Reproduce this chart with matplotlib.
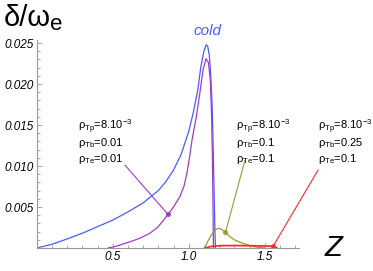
import matplotlib
matplotlib.use("Agg")
import matplotlib.pyplot as plt
from matplotlib.ticker import MultipleLocator, FixedLocator

plt.rcParams['font.family'] = ['Liberation Sans', 'DejaVu Sans']
plt.rcParams['mathtext.default'] = 'regular'

# growth rate curves
blue_z = [0, 0.1, 0.2, 0.3, 0.4, 0.5, 0.6, 0.7, 0.8, 0.85, 0.9, 0.95, 1.0, 1.03, 1.06,
          1.08, 1.1, 1.115, 1.125, 1.135, 1.145, 1.155, 1.162, 1.168, 1.172, 1.176]
blue_d = [0, 0.00045, 0.0011, 0.0018, 0.0026, 0.0034, 0.0044, 0.0055, 0.0070, 0.0081,
          0.0095, 0.0114, 0.0142, 0.0165, 0.0193, 0.0221, 0.0240, 0.0248, 0.0246, 0.0236,
          0.0212, 0.0170, 0.0115, 0.0060, 0.0025, 0]

purple_z = [0.47, 0.52, 0.57, 0.62, 0.68, 0.745, 0.8, 0.864, 0.9, 0.943, 0.97, 0.989,
            1.005, 1.022, 1.05, 1.074, 1.095, 1.114, 1.13, 1.142, 1.15, 1.156, 1.16, 1.163]
purple_d = [0, 0.0002, 0.0005, 0.0008, 0.0012, 0.0018, 0.0026, 0.0041, 0.0050, 0.0063,
            0.0076, 0.0092, 0.0110, 0.0132, 0.0160, 0.0190, 0.0218, 0.0231, 0.0226, 0.0205,
            0.0165, 0.0110, 0.0050, 0]

olive_z = [1.107, 1.12, 1.14, 1.16, 1.18, 1.2, 1.215, 1.23, 1.242, 1.27, 1.3, 1.337,
           1.384, 1.42, 1.45, 1.5]
olive_d = [0, 0.0006, 0.0013, 0.0019, 0.0023, 0.0024, 0.0023, 0.0021, 0.0019, 0.0014,
           0.0010, 0.0007, 0.0004, 0.0002, 0.0001, 0]

red_z = [1.107, 1.15, 1.2, 1.3, 1.4, 1.5, 1.555, 1.58]
red_d = [0, 0.0002, 0.00028, 0.0003, 0.00028, 0.00024, 0.0002, 0]

# marked points and label anchors
mark_z = [0.864, 1.242, 1.555]
mark_d = [0.0041, 0.0019, 0.0002]
anchor_z = [0.581, 1.370, 1.851]
anchor_d = [0.0101, 0.0107, 0.0095]
labels = [[r'$\rho_{Tp}$=8.10$^{-3}$', r'$\rho_{Tb}$=0.01', r'$\rho_{Te}$=0.01'],
          [r'$\rho_{Tp}$=8.10$^{-3}$', r'$\rho_{Tb}$=0.1', r'$\rho_{Te}$=0.1'],
          [r'$\rho_{Tp}$=8.10$^{-3}$', r'$\rho_{Tb}$=0.25', r'$\rho_{Te}$=0.1']]
label_x = [78, 236, 318]
label_y = [127, 143, 159]

xticks = [0.5, 1.0, 1.5]
xticklabels = ['0.5', '1.0', '1.5']
yticks = [0.005, 0.010, 0.015, 0.020, 0.025]
yticklabels = ['0.005', '0.010', '0.015', '0.020', '0.025']

blue = '#4a5cff'
purple = '#a03cc8'
olive = '#9a9a30'
red = '#ff2a2a'
colors = [purple, olive, red]

W, H = 373, 271
fig = plt.figure(figsize=(W / 100, H / 100), dpi=100)
ax = fig.add_axes([36.7 / W, 1 - 248 / H, (299 - 36.7) / W, (248 - 40) / H])

ax.plot(blue_z, blue_d, color=blue, lw=0.9)
ax.plot(purple_z, purple_d, color=purple, lw=0.9)
ax.plot(olive_z, olive_d, color=olive, lw=0.9)
ax.plot(red_z, red_d, color=red, lw=1.3)

for i in range(3):
    ax.plot([anchor_z[i], mark_z[i]], [anchor_d[i], mark_d[i]], color=colors[i],
            lw=0.8, clip_on=False)
    ax.plot(mark_z[i], mark_d[i], 'o', color=colors[i], ms=2.5, clip_on=False)
    for j in range(3):
        fig.text(label_x[i] / W, 1 - label_y[j] / H, labels[i][j], fontsize=8,
                 va='center', ha='left')

ax.set_xlim(0, (299 - 36.7) / 152)
ax.set_ylim(0, 0.02537)

for s in ['top', 'right']:
    ax.spines[s].set_visible(False)
for s in ['left', 'bottom']:
    ax.spines[s].set_color('#999999')
    ax.spines[s].set_linewidth(0.8)

ax.xaxis.set_major_locator(FixedLocator(xticks))
ax.xaxis.set_minor_locator(MultipleLocator(0.1))
ax.yaxis.set_major_locator(FixedLocator(yticks))
ax.yaxis.set_minor_locator(MultipleLocator(0.001))
ax.tick_params(which='both', direction='in', color='#999999', width=0.6)
ax.tick_params(which='major', length=3.5)
ax.tick_params(which='minor', length=2)
ax.tick_params(axis='both', pad=2)
ax.set_xticklabels(xticklabels, fontsize=8.5, fontstyle='italic')
ax.set_yticklabels(yticklabels, fontsize=8.5, fontstyle='italic')

fig.text(4 / W, 1 - 26 / H, 'δ/ω', fontsize=21, va='baseline', ha='left')
fig.text(50 / W, 1 - 30 / H, 'e', fontsize=16, va='baseline', ha='left')
fig.text(333 / W, 1 - 248 / H, 'Z', fontsize=21, style='italic', va='center', ha='center')
fig.text(207 / W, 1 - 31 / H, 'cold', fontsize=11, style='italic', color=blue,
         va='center', ha='center')

fig.savefig('out.png', dpi=100)
